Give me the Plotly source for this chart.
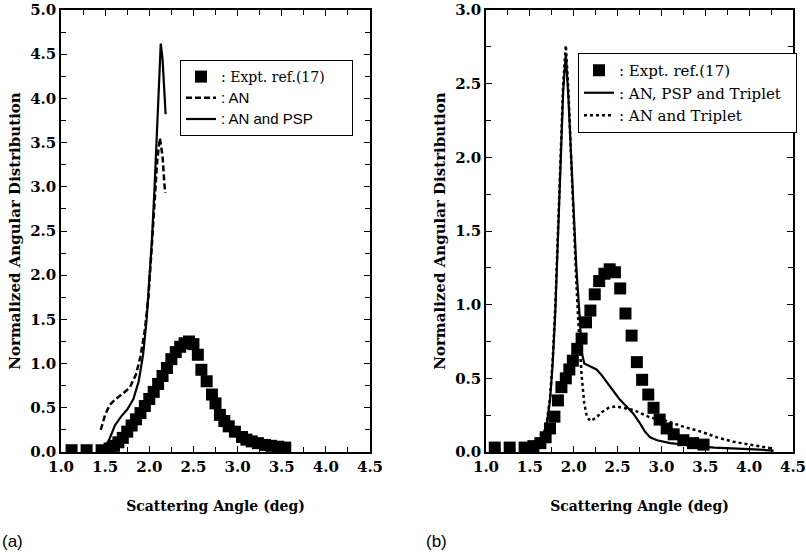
import plotly.graph_objects as go

# ---------------- data: panel (a) ----------------
a_exp_x = [1.12, 1.29, 1.46, 1.55, 1.60, 1.65, 1.70, 1.75, 1.80, 1.85, 1.90, 1.95, 2.00,
           2.05, 2.10, 2.15, 2.20, 2.25, 2.30, 2.35, 2.40, 2.45, 2.50, 2.55, 2.59, 2.65,
           2.71, 2.75, 2.80, 2.85, 2.90, 2.97, 3.05, 3.10, 3.16, 3.23, 3.31, 3.38, 3.46, 3.54]
a_exp_y = [0.02, 0.02, 0.02, 0.04, 0.07, 0.11, 0.16, 0.23, 0.30, 0.37, 0.44, 0.52, 0.60,
           0.68, 0.77, 0.86, 0.95, 1.05, 1.13, 1.19, 1.23, 1.25, 1.22, 1.10, 0.93, 0.80,
           0.65, 0.55, 0.42, 0.35, 0.29, 0.23, 0.17, 0.14, 0.12, 0.10, 0.08, 0.07, 0.06, 0.05]

a_an_x = [1.45, 1.50, 1.55, 1.62, 1.70, 1.78, 1.85, 1.90, 1.95, 1.99, 2.03, 2.06, 2.09,
          2.12, 2.15, 2.17, 2.18]
a_an_y = [0.25, 0.42, 0.53, 0.60, 0.66, 0.73, 0.88, 1.08, 1.38, 1.75, 2.35, 2.85, 3.30,
          3.55, 3.35, 3.05, 2.93]

a_psp_x = [1.48, 1.55, 1.61, 1.68, 1.75, 1.82, 1.88, 1.93, 1.97, 2.00, 2.03, 2.06, 2.09,
           2.11, 2.13, 2.15, 2.17, 2.185]
a_psp_y = [0.02, 0.15, 0.30, 0.40, 0.48, 0.60, 0.80, 1.10, 1.50, 1.95, 2.40, 3.00, 3.70,
           4.25, 4.62, 4.45, 4.10, 3.82]

# ---------------- data: panel (b) ----------------
b_exp_x = [1.10, 1.27, 1.44, 1.54, 1.62, 1.68, 1.73, 1.78, 1.82, 1.86, 1.91, 1.95, 1.99,
           2.04, 2.09, 2.14, 2.19, 2.24, 2.29, 2.35, 2.41, 2.47, 2.53, 2.59, 2.66, 2.72,
           2.78, 2.85, 2.91, 2.98, 3.06, 3.14, 3.25, 3.36, 3.48]
b_exp_y = [0.03, 0.03, 0.03, 0.04, 0.06, 0.10, 0.16, 0.24, 0.35, 0.44, 0.50, 0.56, 0.62,
           0.70, 0.77, 0.88, 0.96, 1.07, 1.16, 1.21, 1.24, 1.22, 1.11, 0.94, 0.79, 0.61,
           0.49, 0.39, 0.30, 0.22, 0.16, 0.12, 0.08, 0.06, 0.05]

b_full_x = [1.50, 1.58, 1.64, 1.69, 1.73, 1.76, 1.79, 1.82, 1.85, 1.88, 1.91, 1.94, 1.97,
            2.00, 2.03, 2.07, 2.09, 2.12, 2.20, 2.26, 2.32, 2.38, 2.45, 2.52, 2.60, 2.68,
            2.75, 2.81, 2.87, 2.95, 3.10, 3.30, 3.60, 4.00, 4.28]
b_full_y = [0.01, 0.04, 0.09, 0.18, 0.35, 0.60, 0.95, 1.40, 1.95, 2.45, 2.70, 2.40, 2.00,
            1.60, 1.25, 0.90, 0.68, 0.60, 0.58, 0.56, 0.52, 0.47, 0.41, 0.36, 0.31, 0.26,
            0.20, 0.14, 0.10, 0.08, 0.06, 0.05, 0.03, 0.02, 0.01]

b_trip_x = [1.50, 1.58, 1.64, 1.69, 1.73, 1.76, 1.79, 1.82, 1.85, 1.88, 1.91, 1.94, 1.97,
            2.00, 2.03, 2.06, 2.09, 2.12, 2.15, 2.19, 2.25, 2.32, 2.40, 2.48, 2.58, 2.68,
            2.87, 3.06, 3.26, 3.44, 3.63, 3.82, 4.01, 4.26]
b_trip_y = [0.01, 0.04, 0.09, 0.19, 0.37, 0.62, 0.98, 1.45, 2.00, 2.50, 2.76, 2.45, 2.00,
            1.55, 1.15, 0.80, 0.52, 0.33, 0.24, 0.21, 0.23, 0.27, 0.30, 0.31, 0.30, 0.285,
            0.235, 0.21, 0.17, 0.14, 0.10, 0.07, 0.05, 0.025]

x_ticks = [1.0, 1.5, 2.0, 2.5, 3.0, 3.5, 4.0, 4.5]

SERIF = "DejaVu Serif"
SANS = "Liberation Sans"
PAD = "&nbsp;" * 5

fig = go.Figure()

marker = dict(symbol="square", size=12, color="black")

# panel (a)
fig.add_trace(go.Scatter(x=a_exp_x, y=a_exp_y, mode="markers", marker=marker,
                         name=": Expt. ref.(17)" + PAD, xaxis="x", yaxis="y", legend="legend"))
fig.add_trace(go.Scatter(x=a_an_x, y=a_an_y, mode="lines", line=dict(color="black", width=2.5, dash="6px,3px"),
                         name='<span style="font-family:Liberation Sans;font-size:15px">: AN</span>',
                         xaxis="x", yaxis="y", legend="legend"))
fig.add_trace(go.Scatter(x=a_psp_x, y=a_psp_y, mode="lines", line=dict(color="black", width=2.2),
                         name='<span style="font-family:Liberation Sans;font-size:15px">: AN and PSP</span>',
                         xaxis="x", yaxis="y", legend="legend"))

# panel (b)
fig.add_trace(go.Scatter(x=b_exp_x, y=b_exp_y, mode="markers", marker=marker,
                         name=": Expt. ref.(17)", xaxis="x2", yaxis="y2", legend="legend2"))
fig.add_trace(go.Scatter(x=b_full_x, y=b_full_y, mode="lines", line=dict(color="black", width=2.2),
                         name=": AN, PSP and Triplet" + "&nbsp;" * 2, xaxis="x2", yaxis="y2", legend="legend2"))
fig.add_trace(go.Scatter(x=b_trip_x, y=b_trip_y, mode="lines", line=dict(color="black", width=2.5, dash="3px,3px"),
                         name=": AN and Triplet", xaxis="x2", yaxis="y2", legend="legend2"))

ybot = 1 - 452 / 555
ytop = 1 - 10 / 555

common_x = dict(range=[1.0, 4.5], tickvals=x_ticks, ticktext=[f"{v:.1f}" for v in x_ticks],
                ticks="inside", ticklen=6, tickwidth=1, tickcolor="black",
                minor=dict(dtick=0.25, tick0=1.0, ticks="inside", ticklen=5, tickcolor="black"),
                showline=True, linecolor="black", linewidth=1.5, mirror="allticks",
                showgrid=False, zeroline=False, automargin=False, ticklabeloverflow="allow",
                tickfont=dict(family=SERIF, size=15, color="black", weight="bold"),
                title=dict(text="Scattering Angle (deg)", standoff=26,
                           font=dict(family=SERIF, size=14, color="black", weight="bold")))

def yax(rng, dom_anchor):
    return dict(range=rng, dtick=0.5, tick0=0, tickformat=".1f",
                ticks="inside", ticklen=6, tickwidth=1, tickcolor="black",
                minor=dict(dtick=0.25, tick0=0, ticks="inside", ticklen=5, tickcolor="black"),
                showline=True, linecolor="black", linewidth=1.5, mirror="allticks",
                showgrid=False, zeroline=False, domain=[ybot, ytop], anchor=dom_anchor,
                automargin=False, ticklabeloverflow="allow",
                tickfont=dict(family=SERIF, size=15, color="black", weight="bold"),
                title=dict(text="Normalized Angular Distribution", standoff=6,
                           font=dict(family=SERIF, size=15, color="black", weight="bold")))

fig.update_layout(
    width=806, height=555,
    margin=dict(l=0, r=0, t=0, b=0, autoexpand=False),
    paper_bgcolor="white", plot_bgcolor="white",
    xaxis=dict(common_x, domain=[61 / 806, 370 / 806], anchor="y"),
    yaxis=yax([0, 5.0], "x"),
    xaxis2=dict(common_x, domain=[486 / 806, 793 / 806], anchor="y2"),
    yaxis2=yax([0, 3.0], "x2"),
    legend=dict(x=180 / 806, y=1 - 60 / 555, xanchor="left", yanchor="top",
                bordercolor="black", borderwidth=1, bgcolor="white",
                font=dict(family=SERIF, size=14, color="black"),
                tracegroupgap=0, itemwidth=30),
    legend2=dict(x=578 / 806, y=1 - 53 / 555, xanchor="left", yanchor="top",
                 bordercolor="black", borderwidth=1, bgcolor="white",
                 font=dict(family=SERIF, size=15, color="black"),
                 tracegroupgap=0, itemwidth=30),
    annotations=[
        dict(text="(a)", x=0, y=1 - 541 / 555, xref="paper", yref="paper", xanchor="left",
             yanchor="middle", showarrow=False, font=dict(family=SANS, size=17, color="black")),
        dict(text="(b)", x=424 / 806, y=1 - 541 / 555, xref="paper", yref="paper", xanchor="left",
             yanchor="middle", showarrow=False, font=dict(family=SANS, size=17, color="black")),
    ],
)

fig.write_html("out.html")
